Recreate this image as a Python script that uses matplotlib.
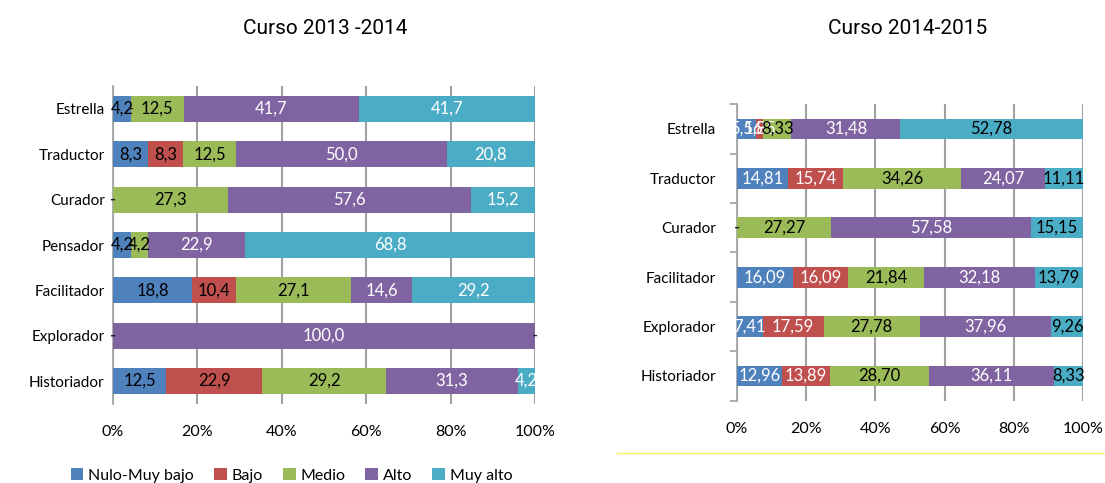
import matplotlib
matplotlib.use("Agg")
import matplotlib.pyplot as plt
from matplotlib.patches import Patch
import numpy as np

plt.rcParams['font.family'] = ['Lato', 'DejaVu Sans']

series = ["Nulo-Muy bajo", "Bajo", "Medio", "Alto", "Muy alto"]
colors = ["#4F81BD", "#C0504D", "#9BBB59", "#8064A2", "#4BACC6"]

cats_2013 = ["Estrella", "Traductor", "Curador", "Pensador", "Facilitador", "Explorador", "Historiador"]
nulo_2013 = [4.2, 8.3, 0.0, 4.2, 18.8, 0.0, 12.5]
bajo_2013 = [0.0, 8.3, 0.0, 0.0, 10.4, 0.0, 22.9]
medio_2013 = [12.5, 12.5, 27.3, 4.2, 27.1, 0.0, 29.2]
alto_2013 = [41.7, 50.0, 57.6, 22.9, 14.6, 100.0, 31.3]
muyalto_2013 = [41.7, 20.8, 15.2, 68.8, 29.2, 0.0, 4.2]

cats_2014 = ["Estrella", "Traductor", "Curador", "Facilitador", "Explorador", "Historiador"]
nulo_2014 = [5.56, 14.81, 0.0, 16.09, 7.41, 12.96]
bajo_2014 = [1.85, 15.74, 0.0, 16.09, 17.59, 13.89]
medio_2014 = [8.33, 34.26, 27.27, 21.84, 27.78, 28.70]
alto_2014 = [31.48, 24.07, 57.58, 32.18, 37.96, 36.11]
muyalto_2014 = [52.78, 11.11, 15.15, 13.79, 9.26, 8.33]

xticks = [0, 20, 40, 60, 80, 100]
xticklabels = ["0%", "20%", "40%", "60%", "80%", "100%"]

fig = plt.figure(figsize=(11.05, 4.83), dpi=100)

def draw(ax, cats, data, decimals, txtcolors, height, grid_color, show_ticks, ypad):
    y = np.arange(len(cats))
    left = np.zeros(len(cats))
    for vals, col, tc in zip(data, colors, txtcolors):
        vals = np.array(vals, dtype=float)
        ax.barh(y, vals, left=left, height=height, color=col, zorder=3, linewidth=0)
        for yi, (l, v) in enumerate(zip(left, vals)):
            if v == 0:
                txt = "-"
                c = "#222222"
            else:
                txt = f"{v:.{decimals}f}".replace(".", ",")
                c = tc
            ax.text(l + v / 2, yi, txt, ha="center", va="center", fontsize=12,
                    color=c, zorder=5, clip_on=False)
        left = left + vals
    ax.set_xlim(0, 100)
    ax.set_ylim(len(cats) - 0.5, -0.5)
    ax.set_yticks(y)
    ax.set_yticklabels(cats, fontsize=11)
    ax.set_xticks(xticks)
    ax.set_xticklabels(xticklabels, fontsize=11.5)
    ax.grid(axis="x", color=grid_color, linewidth=1.5, zorder=0)
    for s in ["top", "right", "bottom"]:
        ax.spines[s].set_visible(False)
    ax.spines["left"].set_color("#a0a0a0")
    ax.spines["left"].set_linewidth(1.2)
    ax.tick_params(axis="x", length=0, pad=15)
    if show_ticks:
        ax.set_yticks(np.arange(len(cats) + 1) - 0.5, minor=True)
        ax.tick_params(axis="y", which="major", length=0, pad=ypad)
        ax.tick_params(axis="y", which="minor", length=5, color="#a0a0a0", width=1.2)
    else:
        ax.tick_params(axis="y", length=0, pad=ypad)

ax1 = fig.add_axes([0.1023, 0.1642, 0.3819, 0.6571])
draw(ax1, cats_2013, [nulo_2013, bajo_2013, medio_2013, alto_2013, muyalto_2013], 1,
     ["black", "black", "black", "white", "white"], 0.58, "#a0a0a0", False, 6)

ax2 = fig.add_axes([0.6670, 0.1704, 0.3131, 0.6137])
draw(ax2, cats_2014, [nulo_2014, bajo_2014, medio_2014, alto_2014, muyalto_2014], 2,
     ["white", "white", "black", "white", "black"], 0.42, "#a0a0a0", True, 15)

fig.text(325 / 1105, 1 - 29 / 483, "Curso 2013 -2014", ha="center", va="center", fontsize=15,
         family=["Roboto", "DejaVu Sans"])
fig.text(908 / 1105, 1 - 29 / 483, "Curso 2014-2015", ha="center", va="center", fontsize=15,
         family=["Roboto", "DejaVu Sans"])

# thin separator line under right chart
fig.add_artist(plt.Line2D([617 / 1105, 1.0], [1 - 453 / 483, 1 - 453 / 483],
                          color="#f0f060", linewidth=1, transform=fig.transFigure))

handles = [Patch(facecolor=c, edgecolor="none") for c in colors]
fig.legend(handles, series, loc="center left", bbox_to_anchor=(0.064, 0.016), ncol=5,
           frameon=False, fontsize=11.5, handlelength=0.8, handleheight=0.8,
           handletextpad=0.3, columnspacing=1.25, borderaxespad=0, borderpad=0)

fig.savefig("out.png", dpi=100)
